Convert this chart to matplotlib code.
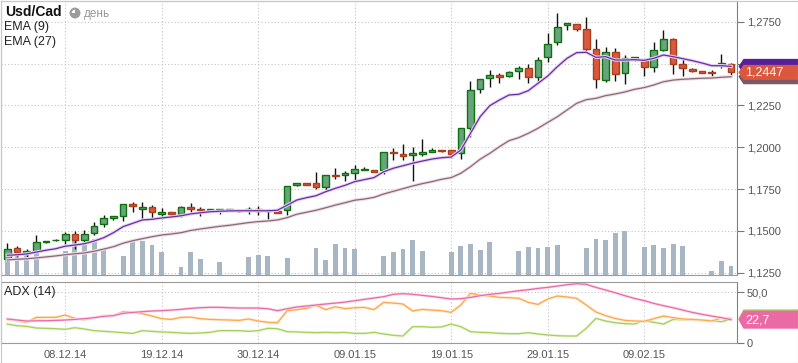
import matplotlib
matplotlib.use("Agg")
import matplotlib.pyplot as plt
import matplotlib.patches as mpatches
import matplotlib.patheffects as pe
from matplotlib.ticker import FuncFormatter
import numpy as np

plt.rcParams['font.family'] = ['Liberation Sans', 'DejaVu Sans']

# ---------------- data ----------------
opens = [1.1334, 1.1397, 1.1370, 1.1382, 1.1433, 1.1443, 1.1448, 1.1480, 1.1448, 1.1490,
         1.1540, 1.1577, 1.1588, 1.1662, 1.1632, 1.1642, 1.1603, 1.1610, 1.1599, 1.1640,
         1.1629, 1.1622, 1.1622, 1.1622, 1.1623, 1.1622, 1.1629, 1.1616, 1.1617, 1.1627,
         1.1774, 1.1783, 1.1783, 1.1761, 1.1835, 1.1834, 1.1843, 1.1861, 1.1864, 1.1861,
         1.1973, 1.1958, 1.1956, 1.1962, 1.1973, 1.1983, 1.1983, 1.1964, 1.2115, 1.2349,
         1.2415, 1.2429, 1.2427, 1.2457, 1.2471, 1.2417, 1.2536, 1.2627, 1.2728, 1.2734,
         1.2705, 1.2585, 1.2403, 1.2567, 1.2441, 1.2527, 1.2513, 1.2477, 1.2583, 1.2645,
         1.2495, 1.2467, 1.2455, 1.2451, 1.2493, 1.2500]
highs = [1.1427, 1.1410, 1.1394, 1.1474, 1.1440, 1.1452, 1.1494, 1.1496, 1.1506, 1.1552,
         1.1596, 1.1591, 1.1662, 1.1674, 1.1672, 1.1654, 1.1635, 1.1612, 1.1648, 1.1669,
         1.1641, 1.1631, 1.1631, 1.1630, 1.1625, 1.1641, 1.1647, 1.1631, 1.1619, 1.1770,
         1.1788, 1.1785, 1.1849, 1.1835, 1.1877, 1.1855, 1.1895, 1.1883, 1.1866, 1.1973,
         1.1994, 1.2018, 1.2000, 1.2048, 1.1994, 1.1985, 1.1986, 1.2114, 1.2395, 1.2410,
         1.2461, 1.2443, 1.2455, 1.2483, 1.2500, 1.2536, 1.2682, 1.2802, 1.2742, 1.2736,
         1.2778, 1.2645, 1.2599, 1.2593, 1.2549, 1.2539, 1.2525, 1.2629, 1.2700, 1.2653,
         1.2539, 1.2473, 1.2457, 1.2461, 1.2557, 1.2502]
lows = [1.1322, 1.1343, 1.1343, 1.1373, 1.1430, 1.1440, 1.1422, 1.1394, 1.1430, 1.1474,
        1.1522, 1.1563, 1.1558, 1.1610, 1.1572, 1.1572, 1.1568, 1.1596, 1.1584, 1.1599,
        1.1588, 1.1620, 1.1603, 1.1620, 1.1614, 1.1603, 1.1596, 1.1560, 1.1605, 1.1597,
        1.1766, 1.1771, 1.1748, 1.1731, 1.1811, 1.1795, 1.1805, 1.1861, 1.1852, 1.1837,
        1.1922, 1.1922, 1.1799, 1.1948, 1.1971, 1.1973, 1.1937, 1.1930, 1.2060, 1.2324,
        1.2357, 1.2383, 1.2421, 1.2407, 1.2381, 1.2392, 1.2510, 1.2612, 1.2702, 1.2696,
        1.2561, 1.2354, 1.2391, 1.2397, 1.2379, 1.2515, 1.2425, 1.2449, 1.2577, 1.2439,
        1.2427, 1.2451, 1.2443, 1.2427, 1.2473, 1.2421]
closes = [1.1394, 1.1376, 1.1382, 1.1432, 1.1437, 1.1448, 1.1480, 1.1446, 1.1480, 1.1530,
          1.1576, 1.1587, 1.1660, 1.1648, 1.1640, 1.1610, 1.1611, 1.1602, 1.1640, 1.1632,
          1.1622, 1.1629, 1.1629, 1.1629, 1.1616, 1.1629, 1.1617, 1.1623, 1.1607, 1.1768,
          1.1786, 1.1773, 1.1761, 1.1834, 1.1825, 1.1843, 1.1869, 1.1871, 1.1854, 1.1971,
          1.1963, 1.1948, 1.1968, 1.1973, 1.1983, 1.1975, 1.1962, 1.2112, 1.2340, 1.2409,
          1.2429, 1.2419, 1.2449, 1.2473, 1.2417, 1.2524, 1.2614, 1.2717, 1.2740, 1.2708,
          1.2589, 1.2409, 1.2567, 1.2435, 1.2531, 1.2537, 1.2477, 1.2579, 1.2645, 1.2500,
          1.2475, 1.2457, 1.2445, 1.2441, 1.2503, 1.2447]
ema9 = [1.1354, 1.1357, 1.1362, 1.1373, 1.1384, 1.1393, 1.1408, 1.1415, 1.1423, 1.1439,
        1.1459, 1.1489, 1.1525, 1.1545, 1.1565, 1.1569, 1.1577, 1.1583, 1.1590, 1.1601,
        1.1608, 1.1614, 1.1617, 1.1619, 1.1620, 1.1620, 1.1620, 1.1620, 1.1623, 1.1653,
        1.1684, 1.1698, 1.1710, 1.1734, 1.1754, 1.1772, 1.1794, 1.1806, 1.1818, 1.1853,
        1.1874, 1.1889, 1.1904, 1.1917, 1.1929, 1.1937, 1.1941, 1.1983, 1.2083, 1.2182,
        1.2248, 1.2282, 1.2312, 1.2316, 1.2338, 1.2382, 1.2425, 1.2481, 1.2531, 1.2565,
        1.2567, 1.2537, 1.2541, 1.2521, 1.2521, 1.2523, 1.2519, 1.2531, 1.2551, 1.2541,
        1.2529, 1.2517, 1.2503, 1.2487, 1.2487, 1.2483]
ema27 = [1.1326, 1.1330, 1.1333, 1.1338, 1.1344, 1.1350, 1.1357, 1.1363, 1.1368, 1.1378,
         1.1391, 1.1405, 1.1426, 1.1441, 1.1453, 1.1465, 1.1475, 1.1481, 1.1489, 1.1502,
         1.1511, 1.1519, 1.1527, 1.1533, 1.1541, 1.1549, 1.1555, 1.1559, 1.1565, 1.1579,
         1.1599, 1.1611, 1.1623, 1.1638, 1.1654, 1.1668, 1.1683, 1.1690, 1.1700, 1.1720,
         1.1736, 1.1752, 1.1768, 1.1782, 1.1794, 1.1808, 1.1818, 1.1844, 1.1883, 1.1928,
         1.1963, 1.2003, 1.2039, 1.2057, 1.2083, 1.2113, 1.2148, 1.2182, 1.2222, 1.2262,
         1.2284, 1.2292, 1.2308, 1.2318, 1.2330, 1.2346, 1.2356, 1.2372, 1.2391, 1.2401,
         1.2406, 1.2409, 1.2412, 1.2413, 1.2418, 1.2421]
volumes = [17.8, 24.5, 22.8, 24.5, 0, 0, 24.5, 34.5, 30.5, 36.2,
           26.8, 0, 19.5, 34.5, 34.5, 30.5, 23.5, 0, 8.5, 23.5,
           16.5, 0, 13.5, 0, 0, 18.5, 20.5, 19.5, 0, 17.5,
           0, 0, 27.5, 15.5, 31.5, 27.5, 26.5, 0, 0, 19.5,
           23.5, 26.5, 35.5, 24.5, 0, 0, 23.5, 29.5, 31.5, 25.5,
           33.5, 0, 0, 24.5, 28.5, 27.5, 28.5, 30.5, 0, 0,
           27.5, 36.5, 35.5, 42.5, 44.5, 0, 28.5, 30.5, 27.5, 31.5,
           29.5, 0, 0, 4.5, 14.5, 9.5]
adx = [23.4, 22.4, 21.4, 21.6, 21.7, 22.0, 22.4, 23.0, 23.7, 24.7,
       26.0, 26.7, 29.0, 29.9, 30.6, 31.3, 31.6, 32.2, 32.9, 33.9,
       34.5, 34.9, 34.9, 34.5, 34.2, 34.2, 34.2, 33.5, 31.6, 33.5,
       35.2, 36.2, 37.2, 38.2, 39.1, 40.1, 41.4, 42.8, 44.1, 45.4,
       47.7, 48.4, 47.7, 46.7, 45.7, 44.4, 43.1, 43.4, 44.7, 46.4,
       47.7, 48.7, 50.0, 51.3, 52.3, 53.6, 54.6, 55.9, 57.2, 58.2,
       57.6, 54.6, 52.0, 49.3, 46.4, 43.7, 41.5, 38.8, 36.5, 34.5,
       32.2, 29.9, 28.0, 26.3, 24.7, 22.7]
di_plus = [23.0, 21.7, 20.1, 25.0, 25.0, 25.0, 27.3, 24.0, 22.7, 24.7,
           26.7, 26.7, 30.6, 30.3, 28.6, 26.3, 23.7, 23.0, 25.0, 25.3,
           23.7, 23.0, 22.7, 22.4, 22.0, 23.4, 21.4, 20.1, 19.7, 31.6,
           32.6, 33.9, 36.9, 32.6, 35.5, 33.6, 34.5, 34.9, 32.6, 39.8,
           39.1, 38.2, 31.3, 32.9, 32.2, 31.6, 29.9, 37.2, 48.7, 47.0,
           46.1, 44.7, 44.4, 43.8, 39.8, 37.8, 43.1, 46.1, 45.1, 43.8,
           37.2, 30.3, 26.7, 24.0, 22.0, 21.4, 21.1, 23.7, 26.3, 24.7,
           23.4, 23.0, 22.4, 21.4, 24.4, 24.0]
di_minus = [18.4, 16.8, 16.1, 14.5, 14.2, 13.8, 13.2, 14.8, 13.5, 11.9,
            11.2, 10.6, 9.9, 9.2, 11.9, 11.2, 10.6, 10.2, 9.6, 9.2,
            9.6, 10.2, 11.9, 11.9, 11.9, 11.2, 11.9, 14.2, 13.8, 10.9,
            10.6, 10.2, 9.9, 10.2, 9.9, 10.2, 9.2, 9.2, 10.2, 8.6,
            7.3, 6.6, 15.8, 15.8, 15.2, 15.5, 18.4, 15.8, 10.9, 10.2,
            9.9, 9.2, 8.9, 8.9, 9.9, 8.6, 7.6, 6.9, 6.6, 6.6,
            14.2, 24.0, 21.4, 19.7, 18.8, 18.4, 21.7, 20.1, 18.4, 23.0,
            22.7, 22.4, 22.0, 21.7, 20.7, 23.4]

date_positions = [6, 16, 26, 36, 46, 56, 66]
date_labels = ["08.12.14", "19.12.14", "30.12.14", "09.01.15", "19.01.15", "29.01.15", "09.02.15"]
price_ticks = [1.1250, 1.1500, 1.1750, 1.2000, 1.2250, 1.2500, 1.2750]
price_tick_labels = ["1,1250", "1,1500", "1,1750", "1,2000", "1,2250", "", "1,2750"]  # 1,2500 hidden under the price tag
adx_ticks = [0, 50]
adx_tick_labels = ["0", "50,0"]
title = "Usd/Cad"
period = "день"
legend_labels = ["EMA (9)", "EMA (27)"]
adx_title = "ADX (14)"

# ---------------- layout ----------------
W, H = 798, 363
fig = plt.figure(figsize=(W / 100, H / 100), dpi=100)
fig.patch.set_facecolor("white")


def rect(l, t, r, b):
    return [l / W, 1 - b / H, (r - l) / W, (b - t) / H]


def fxy(x, y):
    return (x / W, 1 - y / H)


main_rect = rect(1, 1, 737, 275)
ax = fig.add_axes(main_rect)
axv = fig.add_axes(main_rect, sharex=ax)
axc = fig.add_axes(main_rect, sharex=ax, sharey=ax)
axa = fig.add_axes(rect(1, 281.7, 737, 342.7), sharex=ax)

n = len(closes)
x = np.arange(n)
XMIN, XMAX = -0.653, 75.62
ax.set_xlim(XMIN, XMAX)
ax.set_ylim(1.12360, 1.28737)

spine_col = "#9a9a9a"
grid_kw = dict(color="#c4c4c4", linestyle=(0, (1, 2)), linewidth=0.8)

# main price axes (background, ticks, grid)
ax.set_facecolor("white")
ax.yaxis.tick_right()
ax.set_yticks(price_ticks)
ax.set_yticklabels(price_tick_labels)
ax.set_xticks(date_positions)
ax.tick_params(axis="x", length=0, labelbottom=False)
ax.tick_params(axis="y", direction="out", length=5, width=0.8, color="#777777",
               labelcolor="#555555", labelsize=8, pad=2)
ax.grid(True, **grid_kw)
for s in ax.spines.values():
    s.set_color(spine_col)
    s.set_linewidth(0.8)
ax.spines["right"].set_color("#808080")

# volume overlay
axv.patch.set_visible(False)
axv.axis("off")
axv.bar(x, volumes, width=0.5, color="#a7b6c2", zorder=1)
axv.set_ylim(0, 274)

# candles + EMA overlay
axc.patch.set_visible(False)
axc.axis("off")
bw = 0.69
for i in range(n):
    o, h, l, c = opens[i], highs[i], lows[i], closes[i]
    up = c >= o
    axc.vlines(i, l, h, color="#111111", linewidth=1.0, zorder=2)
    if up:
        fc, ec = "#67a37d", "#0d720d"
    else:
        fc, ec = "#db573d", "#a8401c"
    axc.add_patch(mpatches.Rectangle((i - bw / 2, min(o, c)), bw, abs(c - o),
                                     facecolor=fc, edgecolor=ec, linewidth=1.0, zorder=3))

axc.plot(x, ema27, color="#8a6878", linewidth=0.9, zorder=4,
         path_effects=[pe.Stroke(linewidth=2.4, foreground="#eddde5"), pe.Normal()])
axc.plot(x, ema9, color="#6d2aa8", linewidth=0.9, zorder=5,
         path_effects=[pe.Stroke(linewidth=2.4, foreground="#e2d4f2"), pe.Normal()])

# ADX panel
axa.set_ylim(0, 60.2)
axa.yaxis.tick_right()
axa.set_yticks(adx_ticks)
axa.set_yticklabels(adx_tick_labels)
axa.set_xticks(date_positions)
axa.set_xticklabels(date_labels)
axa.tick_params(axis="x", length=0, labelcolor="#555555", labelsize=8, pad=5)
axa.tick_params(axis="y", direction="out", length=5, width=0.8, color="#777777",
                labelcolor="#555555", labelsize=8, pad=2)
axa.grid(True, **grid_kw)
for s in axa.spines.values():
    s.set_color(spine_col)
    s.set_linewidth(0.8)
axa.spines["right"].set_color("#808080")
axa.plot(x, di_minus, color="#a6d058", linewidth=0.9,
         path_effects=[pe.Stroke(linewidth=2.0, foreground="#eaf5da"), pe.Normal()])
axa.plot(x, di_plus, color="#ffa648", linewidth=0.9,
         path_effects=[pe.Stroke(linewidth=2.0, foreground="#ffead4"), pe.Normal()])
axa.plot(x, adx, color="#ea6aa6", linewidth=0.9,
         path_effects=[pe.Stroke(linewidth=2.0, foreground="#fadbe9"), pe.Normal()])
axa.set_xlim(XMIN, XMAX)


# ---------------- value tags on the right ----------------
def ypx(axis, v):
    return H - axis.transData.transform((0, v))[1]


def tag(yc, h, color, text=None, z=5):
    tip, xb = 738.5, 743.5
    pts = [fxy(tip, yc), fxy(xb, yc - h / 2), fxy(W + 2, yc - h / 2),
           fxy(W + 2, yc + h / 2), fxy(xb, yc + h / 2)]
    fig.patches.append(mpatches.Polygon(pts, closed=True, transform=fig.transFigure,
                                        facecolor=color, edgecolor="none", zorder=z))
    if text:
        fig.text((xb + 1.5) / W, 1 - (yc + 0.5) / H, text, color="white", fontsize=9,
                 va="center", ha="left", zorder=z + 1)


tag(ypx(ax, ema27[-1]), 15, "#7b5868", z=5)
tag(ypx(ax, ema9[-1]), 15, "#57209a", z=6)
tag(ypx(ax, closes[-1]), 15, "#db573d", f"{closes[-1]:.4f}".replace(".", ","), z=7)

tag(ypx(axa, di_plus[-1]), 18, "#ffa648", z=5)
tag(ypx(axa, di_minus[-1]), 18, "#a6d058", z=6)
tag(ypx(axa, adx[-1]), 18, "#ea6aa6", f"{adx[-1]:.1f}".replace(".", ","), z=7)

# ---------------- header texts ----------------
fig.text(5 / W, 1 - 12.5 / H, title, fontsize=10, fontweight="bold", color="#111111",
         va="center", ha="left")
axi = fig.add_axes(rect(69, 7, 81, 19))
axi.set_xlim(-1.1, 1.1)
axi.set_ylim(-1.1, 1.1)
axi.axis("off")
axi.add_patch(mpatches.Circle((0, 0), 1.0, facecolor="#9c9c9c", edgecolor="none"))
axi.add_patch(mpatches.Wedge((0, 0), 0.6, 90, 180, facecolor="white", edgecolor="none"))
fig.text(84 / W, 1 - 14 / H, period, fontsize=8.5, color="#999999", va="center", ha="left")
fig.text(4 / W, 1 - 27 / H, legend_labels[0], fontsize=9, color="#222222", va="center", ha="left")
fig.text(4 / W, 1 - 42 / H, legend_labels[1], fontsize=9, color="#222222", va="center", ha="left")
fig.text(4 / W, 1 - 292.5 / H, adx_title, fontsize=9, color="#222222", va="center", ha="left")

# figure border
fig.patches.append(mpatches.Rectangle((0.5 / W, 0.5 / H), 1 - 1 / W, 1 - 1 / H,
                                      transform=fig.transFigure, fill=False,
                                      edgecolor="#c8c8c8", linewidth=0.8, zorder=10))

fig.savefig("out.png", dpi=100)
